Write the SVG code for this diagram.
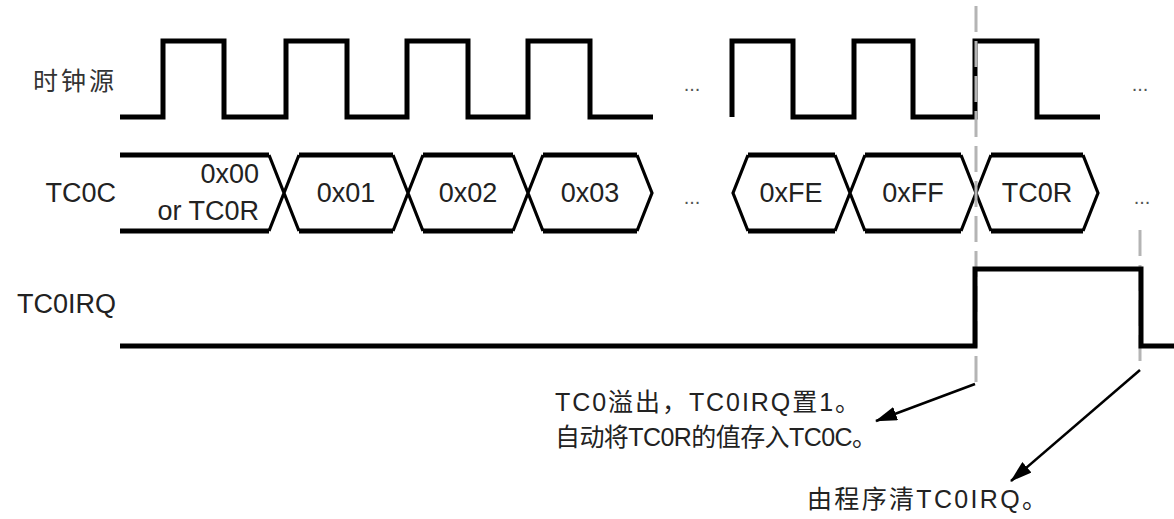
<svg xmlns="http://www.w3.org/2000/svg" width="1174" height="519" viewBox="0 0 1174 519">
<style>
.wave{fill:none;stroke:#000;stroke-width:5;stroke-linejoin:miter;stroke-linecap:butt}
.bus{fill:none;stroke:#000;stroke-width:5}
.diag{fill:none;stroke:#000;stroke-width:3.2}
.dash{fill:none;stroke:#b4b4b4;stroke-width:3;stroke-dasharray:26 9}
.lbl{font-family:"Liberation Sans","Noto Sans CJK SC",sans-serif;font-size:27px;fill:#222}
.cjk{font-family:"Liberation Sans","Noto Sans CJK SC",sans-serif;font-size:25px;fill:#333}
.note{font-family:"Liberation Sans","Noto Sans CJK SC",sans-serif;font-size:25px;fill:#222}
.dots{font-family:"Liberation Sans",sans-serif;font-size:20px;fill:#555;text-anchor:middle}
.arr{stroke:#000;stroke-width:2.5;fill:none}
</style>
<defs>
<marker id="ah" viewBox="0 0 22 14" refX="21" refY="7" markerWidth="22" markerHeight="14" markerUnits="userSpaceOnUse" orient="auto">
<path d="M0,0 L22,7 L0,14 Z" fill="#000"/>
</marker>
</defs>
<rect width="1174" height="519" fill="#fff"/>

<g id="labels">
<text class="cjk" x="33" y="90" letter-spacing="3">时钟源</text>
<text class="lbl" x="116" y="202" text-anchor="end">TC0C</text>
<text class="lbl" x="116" y="313" text-anchor="end">TC0IRQ</text>
</g>

<g id="clock">
<path class="wave" d="M120,117 H163 V41 H224 V117 H286 V41 H347 V117 H407 V41 H468 V117 H528 V41 H590 V117 H653"/>
<path class="wave" d="M732,117 V41 H793 V117 H854 V41 H913 V117 H975 V41 H1037 V117 H1100"/>
<text class="dots" x="692" y="91">...</text>
<text class="dots" x="1140" y="91">...</text>
</g>

<g id="tc0c">
<path class="bus" d="M120,155 H269 M120,231 H269 M299,155 H393 M299,231 H393 M423,155 H513 M423,231 H513 M543,155 H637 M543,231 H637 M748,155 H835 M748,231 H835 M865,155 H961 M865,231 H961 M991,155 H1083 M991,231 H1083"/>
<path class="diag" d="M269,155 L299,231 M269,231 L299,155 M393,155 L423,231 M393,231 L423,155 M513,155 L543,231 M513,231 L543,155 M637,155 L652,193 L637,231 M748,155 L733,193 L748,231 M835,155 L865,231 M835,231 L865,155 M961,155 L991,231 M961,231 L991,155 M1083,155 L1098,193 L1083,231"/>
<text class="lbl" x="259" y="183" text-anchor="end">0x00</text>
<text class="lbl" x="259" y="220" text-anchor="end">or TC0R</text>
<text class="lbl" x="346" y="202" text-anchor="middle">0x01</text>
<text class="lbl" x="468" y="202" text-anchor="middle">0x02</text>
<text class="lbl" x="590" y="202" text-anchor="middle">0x03</text>
<text class="lbl" x="791" y="202" text-anchor="middle">0xFE</text>
<text class="lbl" x="913" y="202" text-anchor="middle">0xFF</text>
<text class="lbl" x="1037" y="202" text-anchor="middle">TC0R</text>
<text class="dots" x="692" y="204">...</text>
<text class="dots" x="1142" y="204">...</text>
</g>

<g id="markers">
<line class="dash" x1="976" y1="6" x2="976" y2="384"/>
<line class="dash" x1="1140" y1="230" x2="1140" y2="370"/>
</g>

<g id="tc0irq">
<path class="wave" d="M120,346 H975 V269 H1141 V346 H1174"/>
</g>

<g id="connectors">
<line class="arr" x1="975" y1="384" x2="876" y2="421" marker-end="url(#ah)"/>
<line class="arr" x1="1140" y1="370" x2="1011" y2="481" marker-end="url(#ah)"/>
</g>

<g id="notes">
<text class="note" x="555" y="411" textLength="305" lengthAdjust="spacing">TC0溢出，TC0IRQ置1。</text>
<text class="note" x="555" y="446" textLength="322" lengthAdjust="spacing">自动将TC0R的值存入TC0C。</text>
<text class="note" x="807" y="508" textLength="240" lengthAdjust="spacing">由程序清TC0IRQ。</text>
</g>
</svg>
